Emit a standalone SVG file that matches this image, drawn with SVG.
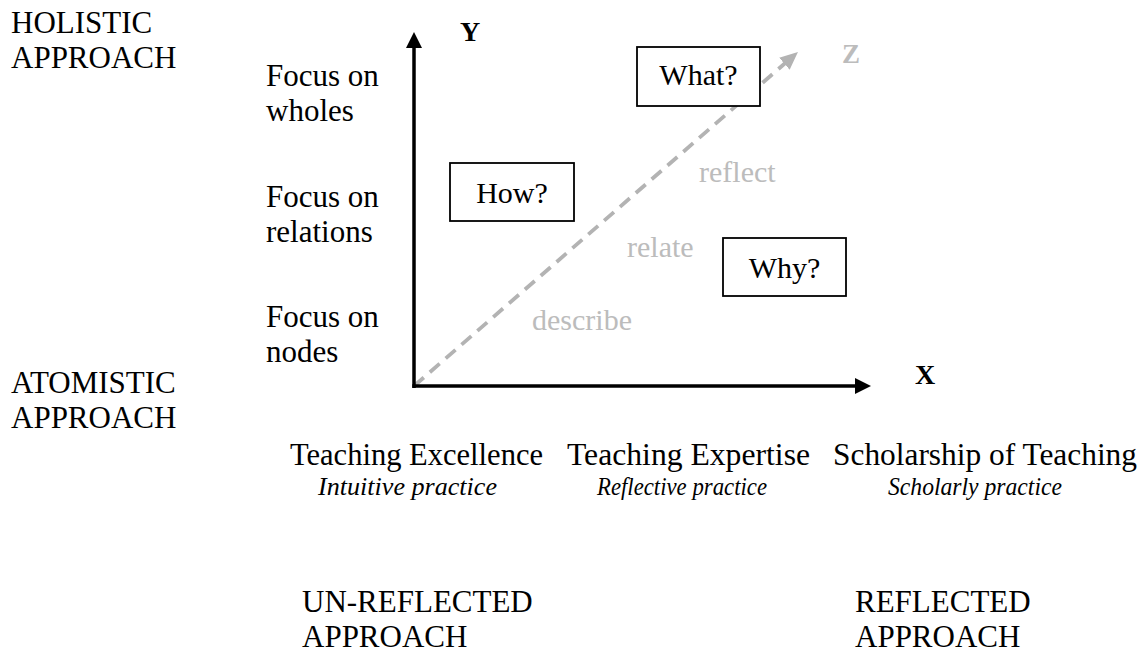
<svg xmlns="http://www.w3.org/2000/svg" width="1141" height="652" viewBox="0 0 1141 652">
  <style>
    text { font-family: "Liberation Serif", "Times New Roman", serif; font-size: 31px; fill: #000; }
    .gray { fill: #bcbcbc; font-size: 30px; }
    .axis-label { font-weight: bold; font-size: 28px; }
    .z-label { font-weight: bold; font-size: 27px; fill: #bcbcbc; }
    .ital { font-style: italic; font-size: 26px; }
    .box rect { fill: #fff; stroke: #000; stroke-width: 1.8; }
    .box text { text-anchor: middle; font-size: 30px; }
    .axis { stroke: #000; stroke-width: 3.5; fill: none; }
    .zaxis { stroke: #b3b3b3; stroke-width: 3.8; stroke-dasharray: 13 8; fill: none; }
  </style>
  <defs>
    <marker id="head-black" markerUnits="userSpaceOnUse" markerWidth="18" markerHeight="18" refX="2" refY="8" orient="auto">
      <path d="M0,0 L16,8 L0,16 z" fill="#000"/>
    </marker>
    <marker id="head-gray" markerUnits="userSpaceOnUse" markerWidth="20" markerHeight="18" refX="2" refY="8" orient="auto">
      <path d="M0,0 L18,8 L0,16 z" fill="#b3b3b3"/>
    </marker>
  </defs>

  <rect width="1141" height="652" fill="#fff"/>

  <!-- connectors: the three axes -->
  <g id="connectors">
    <line id="z-axis" class="zaxis" x1="414" y1="386" x2="785.9" y2="62.5" marker-end="url(#head-gray)"/>
    <line id="y-axis" class="axis" x1="414" y1="388" x2="414" y2="46" marker-end="url(#head-black)"/>
    <line id="x-axis" class="axis" x1="412.3" y1="386" x2="857" y2="386" marker-end="url(#head-black)"/>
  </g>

  <!-- axis names -->
  <g id="axis-names">
    <text class="axis-label" x="460" y="41">Y</text>
    <text class="axis-label" x="915" y="384">X</text>
    <text class="z-label" x="842" y="63">Z</text>
  </g>

  <!-- vertical scale: holistic vs atomistic -->
  <g id="holistic">
    <text x="11" y="33">HOLISTIC</text>
    <text x="11" y="68">APPROACH</text>
  </g>
  <g id="atomistic">
    <text x="11" y="393">ATOMISTIC</text>
    <text x="11" y="428">APPROACH</text>
  </g>
  <g id="focus-wholes">
    <text x="266" y="86">Focus on</text>
    <text x="266" y="121">wholes</text>
  </g>
  <g id="focus-relations">
    <text x="266" y="207">Focus on</text>
    <text x="266" y="242">relations</text>
  </g>
  <g id="focus-nodes">
    <text x="266" y="327">Focus on</text>
    <text x="266" y="362">nodes</text>
  </g>

  <!-- question boxes -->
  <g id="what" class="box">
    <rect x="637" y="47" width="123" height="59"/>
    <text x="698.5" y="85">What?</text>
  </g>
  <g id="how" class="box">
    <rect x="450" y="163" width="124" height="58"/>
    <text x="512" y="203">How?</text>
  </g>
  <g id="why" class="box">
    <rect x="723" y="238" width="123" height="58"/>
    <text x="784.5" y="278">Why?</text>
  </g>

  <!-- stages along the Z axis -->
  <g id="z-stages">
    <text class="gray" x="699" y="182">reflect</text>
    <text class="gray" x="627" y="257">relate</text>
    <text class="gray" x="532" y="330">describe</text>
  </g>

  <!-- horizontal scale -->
  <g id="excellence">
    <text x="290" y="465" textLength="253" lengthAdjust="spacingAndGlyphs">Teaching Excellence</text>
    <text class="ital" x="318" y="495" textLength="179" lengthAdjust="spacingAndGlyphs">Intuitive practice</text>
  </g>
  <g id="expertise">
    <text x="567" y="465" textLength="243" lengthAdjust="spacingAndGlyphs">Teaching Expertise</text>
    <text class="ital" x="597" y="495" textLength="170" lengthAdjust="spacingAndGlyphs">Reflective practice</text>
  </g>
  <g id="scholarship">
    <text x="833" y="465" textLength="304" lengthAdjust="spacingAndGlyphs">Scholarship of Teaching</text>
    <text class="ital" x="888" y="495" textLength="174" lengthAdjust="spacingAndGlyphs">Scholarly practice</text>
  </g>

  <g id="un-reflected">
    <text x="302" y="612">UN-REFLECTED</text>
    <text x="302" y="647">APPROACH</text>
  </g>
  <g id="reflected">
    <text x="855" y="612">REFLECTED</text>
    <text x="855" y="647">APPROACH</text>
  </g>
</svg>
